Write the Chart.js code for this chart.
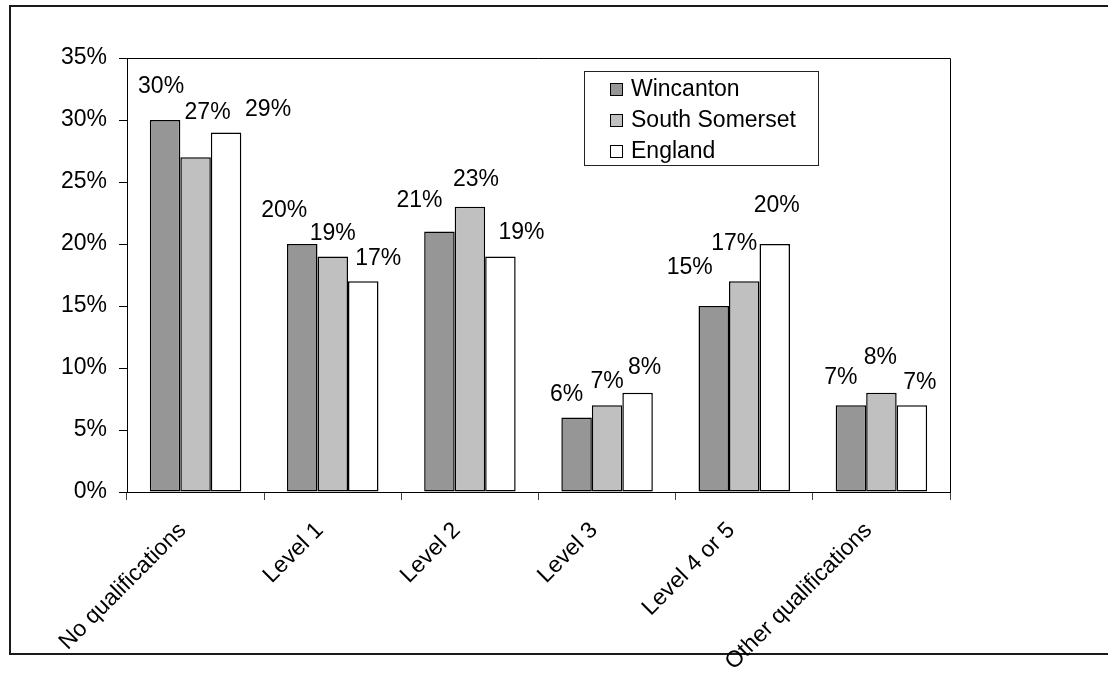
<!DOCTYPE html>
<html>
<head>
<meta charset="utf-8">
<script src="https://cdn.jsdelivr.net/npm/chart.js@4.4.1/dist/chart.umd.min.js"></script>
<style>
  html, body { margin: 0; padding: 0; background: #fff; overflow: hidden; }
  canvas { display: block; }
</style>
</head>
<body>
<canvas id="chart" width="1108" height="679"></canvas>
<script>
// Highest qualification held, share of residents (%)
const categories = ['No qualifications', 'Level 1', 'Level 2', 'Level 3', 'Level 4 or 5', 'Other qualifications'];
const seriesNames = ['Wincanton', 'South Somerset', 'England'];
const wincanton = [30, 20, 21, 6, 15, 7];
const southSomerset = [27, 19, 23, 7, 17, 8];
const england = [29, 17, 19, 8, 20, 7];
const yTicks = [0, 5, 10, 15, 20, 25, 30, 35];

// hand-placed value labels: [dx, dy] from the top centre of each bar
const labelNudges = [
  [[-4, -33], [-18, -33], [-20, -31], [-10, -23], [-24, -38], [-10, -28]],
  [[12, -45], [0, -23], [6, -27], [0, -24], [-10, -38], [-1, -35]],
  [[42, -23], [15, -23], [21, -24], [7, -25], [2, -38], [8, -23]]
];

const FONT = '"Liberation Sans", Arial, Helvetica, sans-serif';
const FONT_SIZE = 23;
const fills = ['#969696', '#C0C0C0', '#FFFFFF'];
const seriesValues = [wincanton, southSomerset, england];

const datasets = seriesNames.map((name, i) => ({
  label: name,
  data: seriesValues[i],
  backgroundColor: fills[i],
  borderColor: '#000',
  borderWidth: 1.5,
  borderSkipped: false,
  barPercentage: 1,
  categoryPercentage: 0.667
}));

const decor = {
  id: 'decor',
  beforeDraw(chart) {
    const ctx = chart.ctx;
    ctx.save();
    ctx.fillStyle = '#fff';
    ctx.fillRect(0, 0, chart.width, chart.height);
    // outer frame of the chart object
    ctx.strokeStyle = '#1a1a1a';
    ctx.lineWidth = 2;
    ctx.strokeRect(10, 6, 1200, 648);
    ctx.restore();
  },
  afterDatasetsDraw(chart) {
    const ctx = chart.ctx;
    const a = chart.chartArea;
    ctx.save();
    // plot area frame (top and right edges)
    ctx.strokeStyle = '#000';
    ctx.lineWidth = 1;
    ctx.beginPath();
    ctx.moveTo(Math.round(a.left), Math.round(a.top) + 0.5);
    ctx.lineTo(Math.round(a.right) + 0.5, Math.round(a.top) + 0.5);
    ctx.lineTo(Math.round(a.right) + 0.5, Math.round(a.bottom));
    ctx.stroke();

    // value labels
    ctx.fillStyle = '#000';
    ctx.font = FONT_SIZE + 'px ' + FONT;
    ctx.textAlign = 'center';
    ctx.textBaseline = 'middle';
    chart.data.datasets.forEach((ds, i) => {
      const meta = chart.getDatasetMeta(i);
      meta.data.forEach((bar, j) => {
        const [dx, dy] = labelNudges[i][j];
        ctx.fillText(ds.data[j] + '%', bar.x + dx, bar.y + dy);
      });
    });

    // legend box
    const lx = 584, ly = 71, lw = 234, lh = 94;
    ctx.fillStyle = '#fff';
    ctx.fillRect(lx, ly, lw, lh);
    ctx.strokeStyle = '#222';
    ctx.lineWidth = 1;
    ctx.strokeRect(lx + 0.5, ly + 0.5, lw, lh);
    ctx.textAlign = 'left';
    chart.data.datasets.forEach((ds, i) => {
      const cy = ly + 18 + i * 31;
      ctx.fillStyle = ds.backgroundColor;
      ctx.fillRect(610, cy - 6, 12, 12);
      ctx.strokeStyle = '#000';
      ctx.strokeRect(610.5, cy - 5.5, 12, 12);
      ctx.fillStyle = '#000';
      ctx.fillText(ds.label, 631, cy + 1);
    });
    ctx.restore();
  }
};

new Chart(document.getElementById('chart'), {
  type: 'bar',
  data: { labels: categories, datasets },
  options: {
    responsive: false,
    animation: false,
    devicePixelRatio: 1,
    layout: { padding: { top: 58, right: 158, left: 0, bottom: 0 } },
    plugins: { legend: { display: false }, tooltip: { enabled: false } },
    scales: {
      x: {
        grid: { offset: true, drawOnChartArea: false, drawTicks: true, tickLength: 8, color: '#444', lineWidth: 1 },
        border: { color: '#000', width: 1 },
        ticks: {
          maxRotation: 45, minRotation: 45, padding: 17, labelOffset: -13,
          color: '#000', font: { family: FONT, size: FONT_SIZE }
        },
        afterFit(s) { s.height = 187; }
      },
      y: {
        min: yTicks[0], max: yTicks[yTicks.length - 1],
        afterBuildTicks(s) { s.ticks = yTicks.map(v => ({ value: v })); },
        grid: { drawOnChartArea: false, drawTicks: true, tickLength: 8, color: '#000', lineWidth: 1 },
        border: { color: '#000', width: 1 },
        ticks: {
          padding: 12, color: '#000',
          font: { family: FONT, size: FONT_SIZE },
          callback: v => v + '%'
        },
        afterFit(s) { s.width = 127; }
      }
    }
  },
  plugins: [decor]
});
</script>
</body>
</html>
